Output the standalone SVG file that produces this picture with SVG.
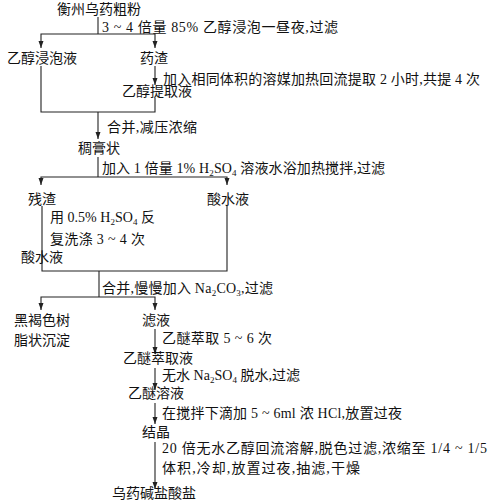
<svg xmlns="http://www.w3.org/2000/svg" width="490" height="503" viewBox="0 0 490 503">
<defs>
<style>
text{font-family:"Liberation Serif","Noto Sans CJK SC",serif;font-size:14px;fill:#111;}
.c{fill:none;stroke:#222;stroke-width:1.1;}
.a{marker-end:url(#ah);}
.s{font-size:9px;}
</style>
<marker id="ah" markerUnits="userSpaceOnUse" markerWidth="7" markerHeight="6" refX="7" refY="3" orient="auto">
<path d="M0,0.5 L7,3 L0,5.5 z" fill="#222"/>
</marker>
</defs>
<rect width="490" height="503" fill="#fff"/>
<g id="connectors">
<path class="c" d="M98,17 V34"/>
<path class="c a" d="M98,34 H41 V48"/>
<path class="c a" d="M98,34 H155 V48"/>
<path class="c a" d="M155,66 V85"/>
<path class="c" d="M41,66 V112 H155 V98"/>
<path class="c a" d="M98,112 V139"/>
<path class="c" d="M98,157 V177"/>
<path class="c a" d="M98,177 H41 V185"/>
<path class="c a" d="M98,177 H227 V185"/>
<path class="c" d="M42,206 V271 H227 V206"/>
<path class="c" d="M99,271 V297"/>
<path class="c a" d="M99,297 H41 V310"/>
<path class="c a" d="M99,297 H155 V310"/>
<path class="c a" d="M155,329 V354"/>
<path class="c a" d="M155,368 V390"/>
<path class="c a" d="M155,403 V424"/>
<path class="c a" d="M155,442 V489"/>
</g>
<g id="edge-labels">
<text x="102" y="32" textLength="236" lengthAdjust="spacing">3 ~ 4 倍量 85% 乙醇浸泡一昼夜,过滤</text>
<text x="163" y="84" textLength="317" lengthAdjust="spacing">加入相同体积的溶媒加热回流提取 2 小时,共提 4 次</text>
<text x="107" y="132" textLength="90" lengthAdjust="spacing">合并,减压浓缩</text>
<text x="102" y="173" textLength="283" lengthAdjust="spacing">加入 1 倍量 1% H<tspan class="s" dy="3">2</tspan><tspan dy="-3">SO</tspan><tspan class="s" dy="3">4</tspan><tspan dy="-3"> 溶液水浴加热搅拌,过滤</tspan></text>
<text x="50" y="222" textLength="105" lengthAdjust="spacing">用 0.5% H<tspan class="s" dy="3">2</tspan><tspan dy="-3">SO</tspan><tspan class="s" dy="3">4</tspan><tspan dy="-3"> 反</tspan></text>
<text x="50" y="244" textLength="95" lengthAdjust="spacing">复洗涤 3 ~ 4 次</text>
<text x="102" y="293" textLength="171" lengthAdjust="spacing">合并,慢慢加入 Na<tspan class="s" dy="3">2</tspan><tspan dy="-3">CO</tspan><tspan class="s" dy="3">3</tspan><tspan dy="-3">,过滤</tspan></text>
<text x="162" y="343" textLength="110" lengthAdjust="spacing">乙醚萃取 5 ~ 6 次</text>
<text x="162" y="380" textLength="138" lengthAdjust="spacing">无水 Na<tspan class="s" dy="3">2</tspan><tspan dy="-3">SO</tspan><tspan class="s" dy="3">4</tspan><tspan dy="-3"> 脱水,过滤</tspan></text>
<text x="162" y="418" textLength="240" lengthAdjust="spacing">在搅拌下滴加 5 ~ 6ml 浓 HCl,放置过夜</text>
<text x="162" y="453" textLength="325" lengthAdjust="spacing">20 倍无水乙醇回流溶解,脱色过滤,浓缩至 1/4 ~ 1/5</text>
<text x="162" y="473" textLength="198" lengthAdjust="spacing">体积,冷却,放置过夜,抽滤,干燥</text>
</g>
<g id="n-start"><text x="57" y="14">衡州乌药粗粉</text></g>
<g id="n-soak"><text x="7" y="63">乙醇浸泡液</text></g>
<g id="n-residue1"><text x="140" y="63">药渣</text></g>
<g id="n-extract"><text x="122" y="96">乙醇提取液</text></g>
<g id="n-paste"><text x="78" y="153">稠膏状</text></g>
<g id="n-residue2"><text x="28" y="204">残渣</text></g>
<g id="n-acid1"><text x="207" y="204">酸水液</text></g>
<g id="n-acid2"><text x="21" y="262">酸水液</text></g>
<g id="n-precip"><text x="14" y="325">黑褐色树</text><text x="14" y="345">脂状沉淀</text></g>
<g id="n-filtrate"><text x="142" y="325">滤液</text></g>
<g id="n-ether-extract"><text x="123" y="363">乙醚萃取液</text></g>
<g id="n-ether-sol"><text x="128" y="398">乙醚溶液</text></g>
<g id="n-crystal"><text x="142" y="437">结晶</text></g>
<g id="n-product"><text x="112" y="498">乌药碱盐酸盐</text></g>
</svg>
